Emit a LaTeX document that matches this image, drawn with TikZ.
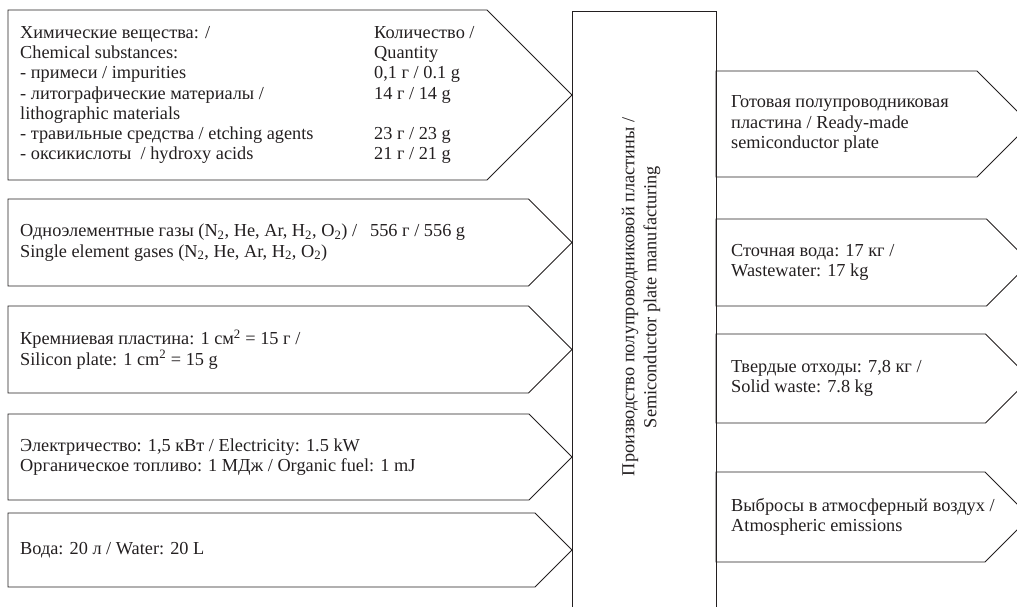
\documentclass[tikz,border=0pt]{standalone}
\usepackage{fontspec}
\setmainfont{Liberation Serif}
\usepackage{array}
\definecolor{ink}{HTML}{231F20}
\tikzset{
  txt/.style={font=\fontsize{18.3}{20.3}\selectfont, text=ink, inner sep=0pt, align=left, anchor=west},
  vtxt/.style={font=\fontsize{18.3}{22}\selectfont, text=ink, inner sep=0pt, align=center, rotate=90},
  shell/.style={rectangle, inner sep=0pt, outer sep=0pt, anchor=north west},
  outline/.style={draw=ink, line width=0.9pt, line join=miter},
}
\newcommand\arrowshape[5]{%
  \node[shell, minimum width={(#5)-(#2)}, minimum height={(#4)-(#3)}] (#1) at (#2,#3) {};
  \pgfmathsetmacro\halfh{((#4)-(#3))/2}
  \draw[outline] (#1.north west) -- ([xshift=-\halfh pt]#1.north east) -- (#1.east)
     -- ([xshift=-\halfh pt]#1.south east) -- (#1.south west) -- cycle;
}
\begin{document}
\begin{tikzpicture}[x=1pt,y=-1pt]
\useasboundingbox (0,0) rectangle (1017,606);
\clip (0,0) rectangle (1017,606);

% central process block
\node[shell, draw=ink, line width=0.9pt, minimum width=144pt, minimum height=640pt] (proc) at (572,11) {};
\node[vtxt] (proctxt) at (641,297) {Производство полупроводниковой пластины /\\Semiconductor plate manufacturing};

% inputs
\arrowshape{chem}{8}{10}{180}{572}
\arrowshape{gas}{8}{199}{286}{572}
\arrowshape{si}{8}{306}{393}{572}
\arrowshape{energy}{8}{414}{500}{572}
\arrowshape{water}{8}{513}{587}{572}

\node[txt] (chemtxt) at ([xshift=12pt]chem.west) {\begin{tabular}{@{}p{354pt}@{}l@{}}
Химические вещества: / & Количество /\\
Chemical substances: & Quantity\\
- примеси / impurities & 0,1 г / 0.1 g\\
- литографические материалы / & 14 г / 14 g\\
lithographic materials & \\
- травильные средства / etching agents & 23 г / 23 g\\
- оксикислоты \ / hydroxy acids & 21 г / 21 g
\end{tabular}};
\node[txt] (gastxt) at ([xshift=12pt]gas.west) {\makebox[350pt][l]{Одноэлементные газы (N\textsubscript{2}, He, Ar, H\textsubscript{2}, O\textsubscript{2}) /}556 г / 556 g\\
Single element gases (N\textsubscript{2}, He, Ar, H\textsubscript{2}, O\textsubscript{2})};
\node[txt] (sitxt) at ([xshift=12pt]si.west) {Кремниевая пластина: 1 см\textsuperscript{2} = 15 г /\\Silicon plate: 1 cm\textsuperscript{2} = 15 g};
\node[txt] (energytxt) at ([xshift=12pt]energy.west) {Электричество: 1,5 кВт / Electricity: 1.5 kW\\Органическое топливо: 1 МДж / Organic fuel: 1 mJ};
\node[txt] (watertxt) at ([xshift=12pt]water.west) {Вода: 20 л / Water: 20 L};

% outputs
\arrowshape{plate}{716}{71}{177}{1030}
\arrowshape{wastew}{716}{219}{306}{1030}
\arrowshape{solid}{716}{334}{423}{1030}
\arrowshape{emis}{716}{472}{562}{1030}

\node[txt] (platetxt) at ([xshift=15pt]plate.west) {Готовая полупроводниковая\\пластина / Ready-made\\semiconductor plate};
\node[txt] (wastewtxt) at ([xshift=15pt]wastew.west) {Сточная вода: 17 кг /\\Wastewater: 17 kg};
\node[txt] (solidtxt) at ([xshift=15pt]solid.west) {Твердые отходы: 7,8 кг /\\Solid waste: 7.8 kg};
\node[txt] (emistxt) at ([xshift=15pt]emis.west) {Выбросы в атмосферный воздух /\\Atmospheric emissions};
\end{tikzpicture}
\end{document}
